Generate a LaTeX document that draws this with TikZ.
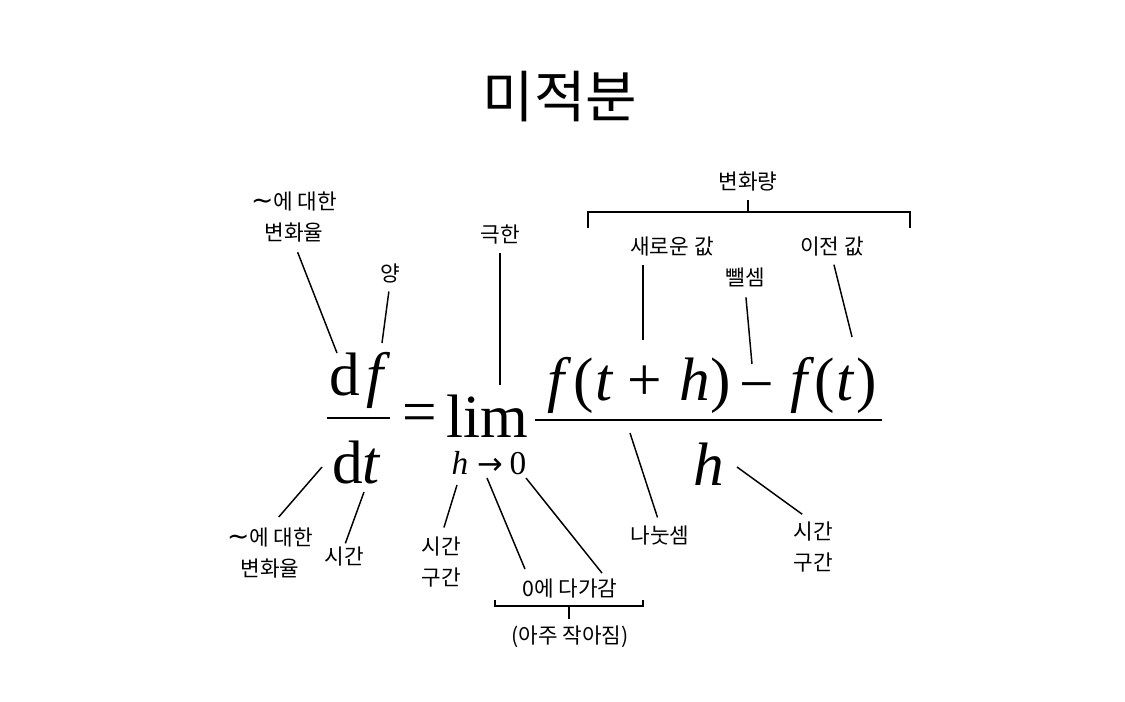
\documentclass[tikz,border=0pt]{standalone}
\usepackage{fontspec}
\setmainfont{Liberation Serif}
\newfontfamily\kofont{Noto Sans CJK KR}
\newfontfamily\arrowfont{DejaVu Sans}
\usetikzlibrary{positioning,calc}

\tikzset{
  lbl/.style={font=\kofont\fontsize{16}{18}\selectfont, inner sep=0pt},
  big/.style={font=\fontsize{46}{50}\selectfont, inner sep=0pt, anchor=base},
  bigit/.style={big, font=\fontsize{46}{50}\selectfont\itshape},
  small/.style={font=\fontsize{25}{28}\selectfont, inner sep=0pt, anchor=base},
  lead/.style={line width=1.1pt},
  fracbar/.style={line width=2.2pt}
}
\newcommand{\tld}{{\arrowfont\fontsize{20}{20}\selectfont ∼}}

\begin{document}
\begin{tikzpicture}[x=0.75pt, y=-0.75pt]
  \useasboundingbox (0,0) rectangle (1125,701);

  % title
  \node[font=\kofont\fontsize{42}{46}\selectfont, inner sep=0pt] (title) at (560,97) {미적분};

  % left fraction
  \node[big]   (dfd) at (345,395) {d};
  \node[bigit] (dff) at (375,395) {f};
  \draw[fracbar] (327,418) -- (390,418);
  \node[big]   (dtd) at (348,483) {d};
  \node[bigit] (dtt) at (371,483) {t};
  \node[big]   (eq)  at (420,432) {=};

  % limit
  \node[big] (lim) at (487,437) {lim};
  \node[small, font=\fontsize{25}{28}\selectfont\itshape] (limh) at (460,474) {h};
  \node[small, font=\arrowfont\fontsize{23}{26}\selectfont] (limto) at (490,474) {→};
  \node[small] (limzero) at (518,474) {0};

  % numerator and denominator
  \node[bigit] (nf)  at (556,400) {f};
  \node[big]   (nl)  at (584,400) {(};
  \node[bigit] (nt)  at (604,400) {t};
  \node[big]   (np)  at (645,400) {+};
  \node[bigit] (nh)  at (695,400) {h};
  \node[big]   (nr)  at (721,400) {)};
  \node[big]   (nm)  at (757,404) {−};
  \node[bigit] (of)  at (799,400) {f};
  \node[big]   (ol)  at (825,400) {(};
  \node[bigit] (ot)  at (845,400) {t};
  \node[big]   (or)  at (867,400) {)};
  \draw[fracbar] (535,420) -- (882,420);
  \node[bigit] (dh) at (709,485) {h};

  % labels above
  \node[lbl] (rateAtop) at (294,202) {\tld 에 대한};
  \node[lbl] (rateA)    at (294,233) {변화율};
  \node[lbl] (qty)      at (390,273) {양};
  \node[lbl] (limit)    at (500,235) {극한};
  \node[lbl] (amount)   at (748,182) {변화량};
  \node[lbl] (newval)   at (672,247) {새로운 값};
  \node[lbl] (oldval)   at (832,247) {이전 값};
  \node[lbl] (minus)    at (745,277) {뺄셈};

  % labels below
  \node[lbl] (rateB)     at (270,537) {\tld 에 대한};
  \node[lbl] (rateBbot)  at (270,568) {변화율};
  \node[lbl] (timeA)     at (344,557) {시간};
  \node[lbl] (stepA)     at (441,547) {시간};
  \node[lbl] (stepAbot)  at (441,578) {구간};
  \node[lbl] (approach)  at (570,589) {0에 다가감};
  \node[lbl] (tiny)      at (570,637) {(아주 작아짐)};
  \node[lbl] (divide)    at (660,535) {나눗셈};
  \node[lbl] (stepB)     at (813,532) {시간};
  \node[lbl] (stepBbot)  at (813,563) {구간};

  % ends near the formula
  \coordinate (cdf)  at (337,353);
  \coordinate (cf)   at (382,343);
  \coordinate (clim) at (500,385);
  \coordinate (cnew) at (643,340);
  \coordinate (cmin) at (752,364);
  \coordinate (cold) at (852,337);
  \coordinate (cdt)  at (322,467);
  \coordinate (ct)   at (364,492);
  \coordinate (ch)   at (457,485);
  \coordinate (cto)  at (487,478);
  \coordinate (czero) at (526,478);
  \coordinate (cbar) at (630,433);
  \coordinate (cdh)  at (737,467);

  % leaders
  \draw[lead, shorten <=7.5pt] (rateA.south) -- (cdf);
  \draw[lead, shorten <=6.5pt] (qty.south) -- (cf);
  \draw[lead, shorten <=6pt] (limit.south) -- (clim);
  \draw[lead, shorten <=6pt] (cnew |- newval.south) -- (cnew);
  \draw[lead, shorten <=8pt] (minus.south) -- (cmin);
  \draw[lead, shorten <=6pt] (oldval.south) -- (cold);
  \draw[lead, shorten <=10pt] (rateB.north) -- (cdt);
  \draw[lead, shorten <=3pt] (timeA.north) -- (ct);
  \draw[lead, shorten <=7.5pt] (stepA.north) -- (ch);
  \draw[lead] (cto) -- ($(approach.north)+(-45,-10)$);
  \draw[lead] (czero) -- ($(approach.north)+(32,-6)$);
  \draw[lead, shorten <=6pt] (divide.north) -- (cbar);
  \draw[lead, shorten >=10pt] (cdh) -- (stepB.north);

  % brackets
  \draw[lead] (588,228) -- (588,212) -- (910,212) -- (910,228);
  \draw[lead, shorten >=6pt] (748,212) -- (amount.south);
  \draw[lead] (495,600) -- (495,606) -- (643,606) -- (643,600);
  \draw[lead, shorten >=5pt] (569,606) -- (tiny.north -| 569,0);
\end{tikzpicture}
\end{document}
